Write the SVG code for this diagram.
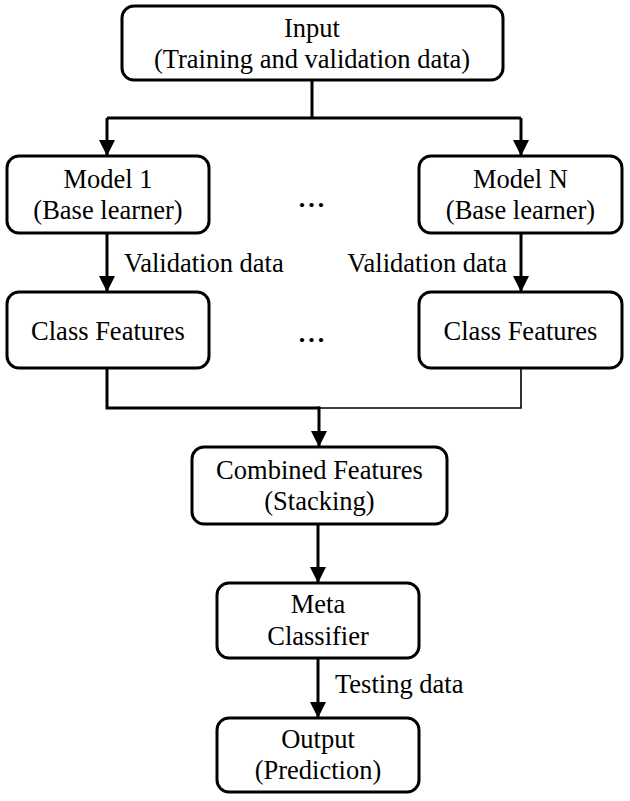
<svg xmlns="http://www.w3.org/2000/svg" width="630" height="801" viewBox="0 0 630 801">
  <defs>
    <marker id="arrow" markerUnits="userSpaceOnUse" markerWidth="16" markerHeight="16" refX="16" refY="8" orient="auto">
      <path d="M0,0 L16,8 L0,16 z" fill="#000"/>
    </marker>
    <style>
      .box { fill: #fff; stroke: #000; stroke-width: 3; }
      .lbl { font-family: "Liberation Serif", "Times New Roman", serif; font-size: 26.5px; fill: #000; text-anchor: middle; }
      .edge-lbl { font-family: "Liberation Serif", "Times New Roman", serif; font-size: 26.5px; fill: #000; }
      .dots { font-family: "Liberation Serif", "Times New Roman", serif; font-size: 26px; font-weight: bold; fill: #000; text-anchor: middle; letter-spacing: 3px; }
      .wire { fill: none; stroke: #000; stroke-width: 3; }
      .wire-thin { fill: none; stroke: #000; stroke-width: 1.6; }
      .arrowed { marker-end: url(#arrow); }
    </style>
  </defs>
  <rect width="630" height="801" fill="#fff"/>

  <g id="connectors">
    <path class="wire" d="M312,80 V118"/>
    <path class="wire" d="M107,118 H521"/>
    <path class="wire arrowed" d="M107,118 V156"/>
    <path class="wire arrowed" d="M521,118 V156"/>
    <path class="wire arrowed" d="M107,233 V292"/>
    <path class="wire arrowed" d="M521,233 V292"/>
    <path class="wire" d="M107,368 V408 H320"/>
    <path class="wire-thin" d="M521,368 V408 H318"/>
    <path class="wire arrowed" d="M319,406.5 V447"/>
    <path class="wire arrowed" d="M318,524 V583"/>
    <path class="wire arrowed" d="M318,658 V718"/>
    <text class="edge-lbl" x="124" y="272">Validation data</text>
    <text class="edge-lbl" x="507" y="272" text-anchor="end">Validation data</text>
    <text class="edge-lbl" x="335" y="693">Testing data</text>
  </g>

  <g id="input">
    <rect class="box" x="122" y="6" width="381" height="74" rx="12"/>
    <text class="lbl" x="312" y="37">Input</text>
    <text class="lbl" x="312" y="68">(Training and validation data)</text>
  </g>

  <g id="model-1">
    <rect class="box" x="7" y="156" width="202" height="77" rx="12"/>
    <text class="lbl" x="108" y="188">Model 1</text>
    <text class="lbl" x="108" y="219">(Base learner)</text>
  </g>

  <g id="model-n">
    <rect class="box" x="419" y="156" width="203" height="77" rx="12"/>
    <text class="lbl" x="520.5" y="188">Model N</text>
    <text class="lbl" x="520.5" y="219">(Base learner)</text>
  </g>

  <g id="ellipsis-models">
    <text class="dots" x="313" y="207">...</text>
  </g>

  <g id="class-features-1">
    <rect class="box" x="7" y="292" width="202" height="76" rx="12"/>
    <text class="lbl" x="108" y="340">Class Features</text>
  </g>

  <g id="class-features-n">
    <rect class="box" x="419" y="292" width="203" height="76" rx="12"/>
    <text class="lbl" x="520.5" y="340">Class Features</text>
  </g>

  <g id="ellipsis-features">
    <text class="dots" x="313" y="342">...</text>
  </g>

  <g id="combined-features">
    <rect class="box" x="192" y="447" width="255" height="77" rx="12"/>
    <text class="lbl" x="319.5" y="479">Combined Features</text>
    <text class="lbl" x="319.5" y="510">(Stacking)</text>
  </g>

  <g id="meta-classifier">
    <rect class="box" x="217" y="583" width="202" height="75" rx="12"/>
    <text class="lbl" x="318" y="613">Meta</text>
    <text class="lbl" x="318" y="645">Classifier</text>
  </g>

  <g id="output">
    <rect class="box" x="217" y="718" width="202" height="74" rx="12"/>
    <text class="lbl" x="318" y="748">Output</text>
    <text class="lbl" x="318" y="779">(Prediction)</text>
  </g>
</svg>
